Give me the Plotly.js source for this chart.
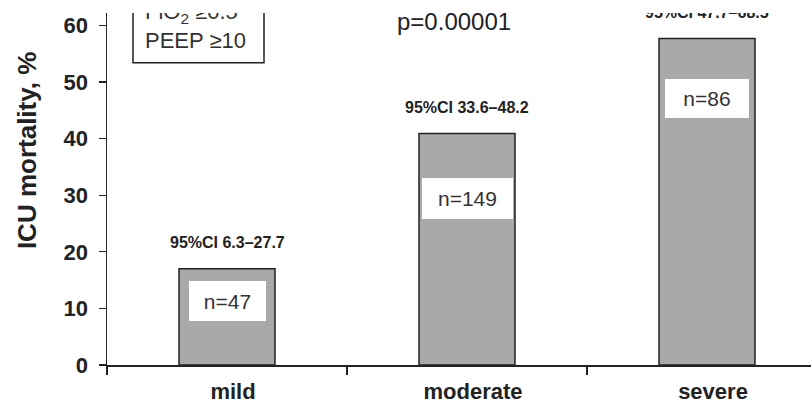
<!DOCTYPE html>
<html>
<head>
<meta charset="utf-8">
<script src="https://cdn.plot.ly/plotly-3.0.1.min.js"></script>
<style>
  html, body { margin: 0; padding: 0; background: #fff; overflow: hidden; width: 811px; height: 407px; }
  #wrap { position: absolute; left: 0; top: 13px; width: 811px; height: 394px; overflow: hidden; background: #fff; }
  #plot { position: absolute; left: 0; top: -33px; width: 840px; height: 430px; }
</style>
</head>
<body>
<div id="wrap"><div id="plot"></div></div>
<script>
// ---- data ----
const categories = ['mild', 'moderate', 'severe'];
const mortality = [17.0, 40.9, 57.7];
const nPatients = [47, 149, 86];
const ciLow = [6.3, 33.6, 47.7];
const ciHigh = [27.7, 48.2, 68.5];
const pValue = '0.00001';
const criteriaLines = ['FiO<sub>2</sub> \u22650.5', 'PEEP \u226510'];
const yTitle = 'ICU mortality, %';

// ---- styling ----
const FONT = 'Liberation Sans, Arial, Helvetica, sans-serif';
const INK = '#222222';
const nBoxW = [77, 91, 84];
const nBoxH = [40, 41, 39];
const nBoxDrop = [32.7, 64.5, 60.5];

const trace = {
  type: 'bar',
  x: categories,
  y: mortality,
  width: 0.4,
  marker: { color: '#a9a9a9', line: { color: INK, width: 1.5 } },
  hoverinfo: 'skip'
};

const annotations = [];
categories.forEach((c, i) => {
  annotations.push({
    x: c, y: mortality[i], xref: 'x', yref: 'y',
    text: '95%CI ' + ciLow[i].toFixed(1) + '\u2013' + ciHigh[i].toFixed(1),
    showarrow: false, yanchor: 'middle', xanchor: 'center', yshift: 26,
    font: { family: FONT, size: 16, color: INK, weight: 700 }
  });
  annotations.push({
    x: c, y: mortality[i], xref: 'x', yref: 'y',
    text: 'n=' + nPatients[i],
    showarrow: false, yanchor: 'middle', xanchor: 'center', yshift: -nBoxDrop[i],
    width: nBoxW[i], height: nBoxH[i], bgcolor: '#ffffff', borderpad: 0, borderwidth: 0,
    font: { family: FONT, size: 21, color: '#333333' }
  });
});
annotations.push({
  xref: 'paper', yref: 'paper', x: 0.482, y: 0.940,
  text: 'p=' + pValue, showarrow: false, xanchor: 'center', yanchor: 'middle',
  font: { family: FONT, size: 24, color: INK }
});
annotations.push({
  xref: 'paper', yref: 'paper', x: (143 - 107) / 720, y: 0.929,
  text: criteriaLines.join('<br>'), showarrow: false, xanchor: 'left', yanchor: 'middle', align: 'left',
  font: { family: FONT, size: 22, color: '#333333' }
});
annotations.push({
  xref: 'paper', yref: 'paper', x: (27 - 107) / 720, y: 0.586,
  text: yTitle, showarrow: false, textangle: -90, xanchor: 'center', yanchor: 'middle',
  font: { family: FONT, size: 26, color: INK, weight: 700 }
});

const layout = {
  width: 840, height: 430,
  margin: { l: 107, r: 13, t: 20, b: 45 },
  paper_bgcolor: '#ffffff', plot_bgcolor: '#ffffff',
  showlegend: false,
  xaxis: {
    type: 'category', range: [-0.5, 2.5],
    showline: true, linecolor: INK, linewidth: 1.5,
    ticks: 'outside', tickson: 'boundaries', ticklen: 8, tickwidth: 1.2, tickcolor: INK,
    ticklabelstandoff: 6, ticklabelshift: 6,
    showgrid: false, zeroline: false,
    tickfont: { family: FONT, size: 22, color: INK, weight: 700 }
  },
  yaxis: {
    range: [0, 64.49], tickvals: [0, 10, 20, 30, 40, 50, 60],
    showline: true, linecolor: INK, linewidth: 1.5,
    ticks: 'outside', ticklen: 7, tickwidth: 1.2, tickcolor: INK,
    ticklabelstandoff: 6,
    showgrid: false, zeroline: false,
    tickfont: { family: FONT, size: 22, color: INK, weight: 700 }
  },
  shapes: [{
    type: 'rect', xref: 'paper', yref: 'paper',
    x0: (133 - 107) / 720, x1: (264 - 107) / 720, y0: 0.828, y1: 1.05,
    line: { color: INK, width: 1.5 }, fillcolor: 'rgba(0,0,0,0)'
  }],
  annotations: annotations
};

Plotly.newPlot('plot', [trace], layout, { staticPlot: true, displayModeBar: false });
</script>
</body>
</html>
